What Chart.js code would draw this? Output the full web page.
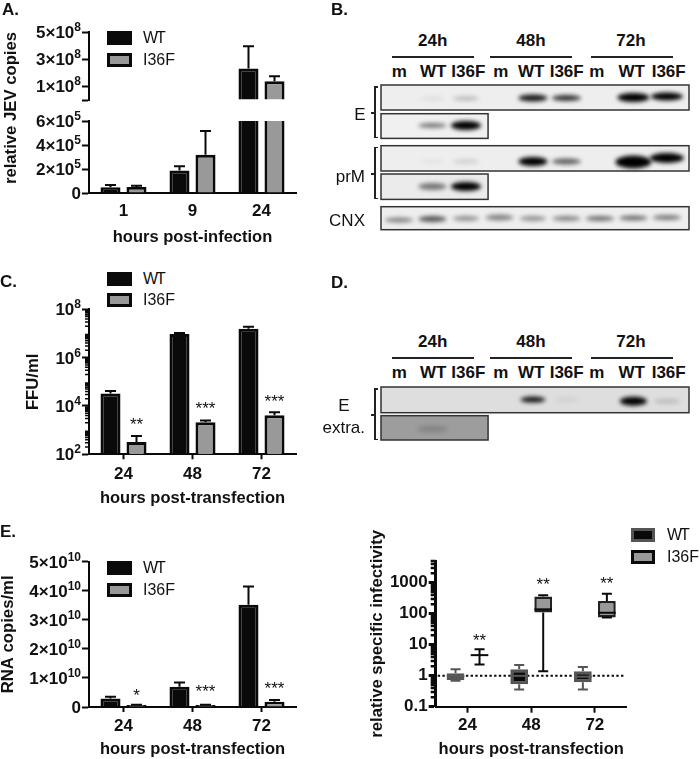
<!DOCTYPE html>
<html>
<head>
<meta charset="utf-8">
<script src="https://cdn.jsdelivr.net/npm/chart.js@4"></script>
<style>
  html, body { margin: 0; padding: 0; background: #fff; }
  #page { position: relative; width: 700px; height: 759px; overflow: hidden; font-family: "Liberation Sans", Arial, sans-serif; color: #111; }
  canvas { position: absolute; }
  .t { position: absolute; white-space: nowrap; line-height: 1; }
  .b { font-weight: bold; }
  .swatch { position: absolute; box-sizing: border-box; }
  .rule { position: absolute; background: #222; }
</style>
</head>
<body>
<div id="page"></div>
<script>
// Panel A: hours post-infection, broken axis
var aHours = ['1', '9', '24'];
var aWtLow = [48000, 187000, 900000];
var aMutLow = [50000, 318000, 900000];
var aWtLowErr = [67000, 223000, null];
var aMutLowErr = [60000, 516000, null];
var aWtHigh = [null, null, 231000000];
var aMutHigh = [null, null, 137000000];
var aWtHighErr = [null, null, 396000000];
var aMutHighErr = [null, null, 174000000];
var aLowTicks = [0, 200000, 400000, 600000];
var aLowLabels = ['0', '2×10^5', '4×10^5', '6×10^5'];
var aHighTicks = [0, 100000000, 300000000, 500000000];
var aHighLabels = ['', '1×10^8', '3×10^8', '5×10^8'];

// Panel C: FFU/ml
var cHours = ['24', '48', '72'];
var cWt = [33000, 9500000, 15800000];
var cMut = [324, 2100, 4100];
var cWtErr = [42000, 10500000, 19000000];
var cMutErr = [570, 2500, 5500];
var cStars = ['**', '***', '***'];
var cStarAt = [2030, 9680, 19400];
var cTicks = [100, 10000, 1000000, 100000000];
var cLabels = ['10^2', '10^4', '10^6', '10^8'];
var cDecades = [100, 1000, 10000, 100000, 1000000, 10000000];

// Panel E: RNA copies/ml
var eHours = ['24', '48', '72'];
var eWt = [2900000000, 7000000000, 35200000000];
var eMut = [700000000, 700000000, 1800000000];
var eWtErr = [3500000000, 8400000000, 41500000000];
var eMutErr = [800000000, 800000000, 2400000000];
var eStars = ['*', '***', '***'];
var eStarAt = [4580000000, 6100000000, 7000000000];
var eTicks = [0, 10000000000, 20000000000, 30000000000, 40000000000, 50000000000];
var eLabels = ['0', '1×10^10', '2×10^10', '3×10^10', '4×10^10', '5×10^10'];

// Panel F: relative specific infectivity, box and whiskers
var fHours = ['24', '48', '72'];
var fWtLow = [0.69, 0.36, 0.36];
var fWtQ1 = [0.72, 0.525, 0.61];
var fWtMed = [0.98, 0.99, 0.93];
var fWtQ3 = [1.19, 1.6, 1.38];
var fWtHigh = [1.6, 2.2, 1.9];
var fMutLow = [2.3, 1.4, 76];
var fMutQ1 = [4.6, 110, 76];
var fMutMed = [4.6, 138, 107];
var fMutQ3 = [4.6, 355, 257];
var fMutHigh = [7.07, 390, 442];
var fStars = ['**', '**', '**'];
var fStarAt = [16.6, 1020, 1130];
var fTicks = [0.1, 1, 10, 100, 1000];
var fLabels = ['0.1', '1', '10', '100', '1000'];
var fDecades = [0.1, 1, 10, 100, 1000];

// Blots: lane 0..8 is m/WT/I36F at 24h, 48h, 72h; y is distance down the membrane
var laneLabels = ['m', 'WT', 'I36F', 'm', 'WT', 'I36F', 'm', 'WT', 'I36F'];
var timeLabels = ['24h', '48h', '72h'];
var bRowTop = [0, 28.7, 60.7, 89, 121.7];
var bRowBottom = [25, 53.4, 86, 114.4, 144.7];
var bRowLast = [8.66, 2.66, 8.66, 2.66, 8.66];
var bRowShade = ['#eeeeee', '#f0f0f0', '#eeeeee', '#ebebeb', '#eeeeee'];
var bLanes = [1, 2, 4, 5, 7, 8, 1, 2, 1, 2, 4, 5, 7, 8, 1, 2, 0, 1, 2, 3, 4, 5, 6, 7, 8];
var bDepth = [13.5, 13.5, 13, 13, 12.5, 11.5, 40.5, 40.5, 76.5, 76.5, 76.5, 76.5, 77, 73, 101.5, 101.5, 135, 134, 133.5, 132.5, 133.5, 133.5, 133.5, 133, 132.5];
var bDark = [0.06, 0.2, 0.9, 0.8, 1, 1, 0.5, 1, 0.04, 0.12, 1, 0.6, 1, 1, 0.5, 1, 0.45, 0.65, 0.4, 0.45, 0.4, 0.45, 0.55, 0.55, 0.5];
var bSpan = [24, 26, 29, 29, 32, 32, 28, 30, 24, 26, 29, 29, 36, 34, 28, 30, 28, 28, 26, 28, 26, 28, 28, 28, 28];
var bThick = [5, 5, 7, 6, 9, 8, 5, 9, 5, 5, 9, 6, 13, 10, 7, 9, 5, 6, 5, 6, 5, 5, 5, 5, 5];

var dRowTop = [0, 29];
var dRowBottom = [26, 53.6];
var dRowLast = [8.66, 2.66];
var dRowShade = ['#dedede', '#9d9d9d'];
var dLanes = [4, 5, 7, 8, 1];
var dDepth = [12.7, 13, 14.3, 14.5, 42.5];
var dDark = [0.9, 0.06, 1, 0.15, 0.15];
var dSpan = [25, 24, 27, 26, 30];
var dThick = [6, 5, 9, 5, 7];

var BLACK = '#0a0a0a';
var GREY = '#999999';
var FONT = '"Liberation Sans", Arial, sans-serif';

var page = document.getElementById('page');

function label(text, x, y, size, bold, anchor) {
  var el = document.createElement('div');
  el.className = 't' + (bold ? ' b' : '');
  el.textContent = text;
  el.style.fontSize = size + 'px';
  el.style.left = x + 'px';
  el.style.top = y + 'px';
  el.style.transform = 'translate(' + (anchor === 'right' ? '-100%' : anchor === 'left' ? '0' : '-50%') + ',-50%)';
  page.appendChild(el);
  return el;
}

function rule(x, y, w, h) {
  var el = document.createElement('div');
  el.className = 'rule';
  el.style.cssText = 'left:' + x + 'px;top:' + y + 'px;width:' + w + 'px;height:' + h + 'px';
  page.appendChild(el);
}

function legend(x, y1, y2, w, h, textX, wtBorder) {
  [['WT', y1, BLACK, wtBorder], ['I36F', y2, GREY, BLACK]].forEach(function(r) {
    var s = document.createElement('div');
    s.className = 'swatch';
    s.style.cssText = 'left:' + x + 'px;top:' + r[1] + 'px;width:' + w + 'px;height:' + h + 'px;background:' + r[2] + ';border:3px solid ' + r[3];
    page.appendChild(s);
    var t = label(r[0], textX, r[1] + h / 2, 16, false, 'left');
    if (r[0] === 'WT') t.style.letterSpacing = '-2px';
  });
}

function addCanvas(left, top, w, h) {
  var c = document.createElement('canvas');
  c.width = w;
  c.height = h;
  c.style.left = left + 'px';
  c.style.top = top + 'px';
  page.appendChild(c);
  return c;
}

// whisker lines, significance stars, minor ticks and the reference line are not in the library
var extrasPlugin = {
  id: 'extras',
  beforeDatasetsDraw: function(chart) {
    var opts = chart.options.plugins.extras;
    if (opts.refLine == null) return;
    var ctx = chart.ctx;
    var py = chart.scales.y.getPixelForValue(opts.refLine);
    ctx.save();
    ctx.strokeStyle = BLACK;
    ctx.lineWidth = 2;
    ctx.setLineDash([2.4, 2.3]);
    ctx.beginPath();
    ctx.moveTo(chart.chartArea.left + 2, py);
    ctx.lineTo(chart.chartArea.right - 1, py);
    ctx.stroke();
    ctx.restore();
  },
  afterDatasetsDraw: function(chart) {
    var ctx = chart.ctx;
    var y = chart.scales.y;
    ctx.save();
    chart.data.datasets.forEach(function(ds, d) {
      var meta = chart.getDatasetMeta(d);
      meta.data.forEach(function(bar, i) {
        if (ds.errTop && ds.errTop[i] != null) {
          var top = y.getPixelForValue(ds.errTop[i]);
          ctx.strokeStyle = BLACK;
          ctx.lineWidth = 2;
          ctx.beginPath();
          ctx.moveTo(bar.x, bar.y);
          ctx.lineTo(bar.x, top);
          ctx.moveTo(bar.x - 5.5, top);
          ctx.lineTo(bar.x + 5.5, top);
          ctx.stroke();
        }
        if (ds.whiskLow) {
          var lo = y.getPixelForValue(ds.whiskLow[i]);
          var hi = y.getPixelForValue(ds.whiskHigh[i]);
          var q1 = y.getPixelForValue(ds.data[i][0]);
          var q3 = y.getPixelForValue(ds.data[i][1]);
          var med = y.getPixelForValue(ds.median[i]);
          ctx.strokeStyle = ds.whiskColor;
          ctx.lineWidth = 2;
          ctx.beginPath();
          ctx.moveTo(bar.x, q3);
          ctx.lineTo(bar.x, hi);
          ctx.moveTo(bar.x - 5, hi);
          ctx.lineTo(bar.x + 5, hi);
          ctx.moveTo(bar.x, q1);
          ctx.lineTo(bar.x, lo);
          ctx.moveTo(bar.x - 5, lo);
          ctx.lineTo(bar.x + 5, lo);
          ctx.stroke();
          ctx.strokeStyle = ds.medianColor;
          ctx.lineWidth = 2;
          ctx.beginPath();
          ctx.moveTo(bar.x - 8.8, med);
          ctx.lineTo(bar.x + 8.8, med);
          ctx.stroke();
        }
        if (ds.stars && ds.stars[i]) {
          ctx.fillStyle = '#111';
          ctx.font = '17px ' + FONT;
          ctx.textAlign = 'center';
          ctx.textBaseline = 'middle';
          ctx.fillText(ds.stars[i], bar.x, y.getPixelForValue(ds.starAt[i]) + 3);
        }
      });
    });
    var opts = chart.options.plugins.extras;
    if (opts.minorDecades) {
      ctx.strokeStyle = BLACK;
      ctx.lineWidth = opts.minorWidth;
      ctx.beginPath();
      opts.minorDecades.forEach(function(dec) {
        [2, 3, 4, 5, 6, 7, 8, 9].forEach(function(m) {
          if (dec * m > y.max) return;
          var p = y.getPixelForValue(dec * m);
          ctx.moveTo(chart.chartArea.left, p);
          ctx.lineTo(chart.chartArea.left - opts.minorLen, p);
        });
      });
      ctx.stroke();
    }
    // tick labels with a real raised exponent, '5×10^8' style
    if (opts.supLabels) {
      var right = chart.chartArea.left - 8;
      ctx.fillStyle = '#111';
      ctx.textAlign = 'left';
      ctx.textBaseline = 'alphabetic';
      y.ticks.forEach(function(tick) {
        var parts = opts.supLabels[y.ticks.indexOf(tick)].split('^');
        var base = y.getPixelForValue(tick.value) + 6;
        ctx.font = 'bold 17px ' + FONT;
        var w = ctx.measureText(parts[0]).width;
        ctx.font = 'bold 12px ' + FONT;
        var w2 = parts[1] ? ctx.measureText(parts[1]).width : 0;
        ctx.font = 'bold 17px ' + FONT;
        ctx.fillText(parts[0], right - w - w2, base);
        if (parts[1]) {
          ctx.font = 'bold 12px ' + FONT;
          ctx.fillText(parts[1], right - w2, base - 7);
        }
      });
    }
    ctx.restore();
  }
};

function barSets(wt, mut, wtErr, mutErr, stars, starAt) {
  return [
    { label: 'WT', data: wt, backgroundColor: BLACK, borderColor: BLACK, borderWidth: 3, errTop: wtErr },
    { label: 'I36F', data: mut, backgroundColor: GREY, borderColor: BLACK, borderWidth: 3, errTop: mutErr, stars: stars, starAt: starAt }
  ];
}

// canvas box plus the plot rectangle measured in page pixels
function axisChart(cfg) {
  var box = cfg.box, plot = cfg.plot;
  var el = addCanvas(box.left, box.top, box.w, box.h);
  var yTicks = cfg.yTicks, yLabels = cfg.yLabels;
  var showX = cfg.xTitle !== undefined;
  return new Chart(el.getContext('2d'), {
    type: 'bar',
    data: { labels: cfg.labels, datasets: cfg.datasets },
    plugins: [extrasPlugin],
    options: {
      responsive: false,
      animation: false,
      events: [],
      layout: { padding: {
        left: 0,
        top: plot.top - box.top,
        right: box.left + box.w - plot.right,
        bottom: showX ? 0 : box.top + box.h - plot.bottom
      } },
      datasets: { bar: { categoryPercentage: cfg.catPct || 0.754, barPercentage: cfg.barPct || 0.77, borderSkipped: cfg.skipped === undefined ? 'bottom' : cfg.skipped } },
      plugins: {
        legend: { display: false },
        tooltip: { enabled: false },
        extras: { refLine: cfg.refLine, minorDecades: cfg.minorDecades, minorLen: cfg.minorLen || 4, minorWidth: cfg.minorWidth || 1.5, supLabels: cfg.sup ? yLabels : null }
      },
      scales: {
        x: {
          display: showX,
          afterFit: function(s) { s.height = box.top + box.h - plot.bottom; },
          grid: { display: true, drawOnChartArea: false, offset: false, drawTicks: cfg.xTickLen > 0, tickLength: cfg.xTickLen, tickWidth: 2, tickColor: BLACK },
          border: { display: true, width: 2, color: BLACK },
          ticks: { color: '#111', padding: cfg.xTickPad, maxRotation: 0, font: { family: FONT, size: 17, weight: 'bold' } },
          title: { display: !!cfg.xTitle, text: cfg.xTitle, color: '#111', padding: { top: 0, bottom: cfg.xTitlePad }, font: { family: FONT, size: 16.5, weight: 'bold' } }
        },
        y: {
          type: cfg.yType || 'linear',
          min: cfg.yMin,
          max: cfg.yMax,
          afterFit: function(s) { s.width = plot.left - box.left; },
          afterBuildTicks: function(s) { s.ticks = yTicks.map(function(v) { return { value: v }; }); },
          grid: { display: true, drawOnChartArea: false, tickLength: cfg.yTickLen || 7, tickWidth: cfg.yLine || 2, tickColor: BLACK },
          border: { display: true, width: cfg.yLine || 2, color: BLACK },
          ticks: {
            display: !cfg.sup,
            color: '#111',
            padding: 1,
            autoSkip: false,
            font: { family: FONT, size: 17, weight: 'bold' },
            callback: function(v, i) { return yLabels[i]; }
          },
          title: { display: !!cfg.yTitle, text: cfg.yTitle, color: '#111', padding: { top: cfg.yTitlePad, bottom: 0 }, font: { family: FONT, size: 16.7, weight: 'bold' } }
        }
      }
    }
  });
}

// Panel A, top and bottom of the broken axis
axisChart({
  box: { left: 0, top: 12, w: 330, h: 96 }, plot: { left: 89, top: 32, right: 296, bottom: 104 },
  labels: aHours, datasets: barSets(aWtHigh, aMutHigh, aWtHighErr, aMutHighErr),
  yMin: 0, yMax: 500000000, yTicks: aHighTicks, yLabels: aHighLabels, sup: true
});
axisChart({
  box: { left: 0, top: 108, w: 330, h: 142 }, plot: { left: 89, top: 121, right: 296, bottom: 193 },
  labels: aHours, datasets: barSets(aWtLow, aMutLow, aWtLowErr, aMutLowErr),
  yMin: 0, yMax: 600000, yTicks: aLowTicks, yLabels: aLowLabels, sup: true,
  xTitle: 'hours post-infection', xTitlePad: 3, xTickLen: 0, xTickPad: 8
});
label('relative JEV copies', 11, 108, 16.7, true).style.transform = 'translate(-50%,-50%) rotate(-90deg)';
legend(107, 31, 53, 25, 14, 143, BLACK);

// Panel C
axisChart({
  box: { left: 0, top: 290, w: 330, h: 220 }, plot: { left: 89, top: 309.3, right: 296, bottom: 454.3 },
  labels: cHours, datasets: barSets(cWt, cMut, cWtErr, cMutErr, cStars, cStarAt),
  yType: 'logarithmic', yMin: 100, yMax: 100000000, yTicks: cTicks, yLabels: cLabels, sup: true,
  minorDecades: cDecades,
  yTitle: 'FFU/ml', yTitlePad: 23,
  xTitle: 'hours post-transfection', xTitlePad: 2, xTickLen: 5, xTickPad: 5
});
legend(107, 272, 293, 25, 14, 143, BLACK);

// Panel E
axisChart({
  box: { left: 0, top: 545, w: 330, h: 214 }, plot: { left: 89, top: 561.7, right: 296, bottom: 707 },
  labels: eHours, datasets: barSets(eWt, eMut, eWtErr, eMutErr, eStars, eStarAt),
  yMin: 0, yMax: 50000000000, yTicks: eTicks, yLabels: eLabels, sup: true,
  yTitle: 'RNA copies/ml', yTitlePad: -2,
  xTitle: 'hours post-transfection', xTitlePad: 0, xTickLen: 5, xTickPad: 4
});
legend(107, 561, 583, 25, 14, 143, BLACK);

// Panel F, floating bars give the boxes
axisChart({
  box: { left: 350, top: 520, w: 350, h: 239 }, plot: { left: 435.7, top: 561, right: 626.7, bottom: 706.7 },
  labels: fHours,
  datasets: [
    {
      label: 'WT',
      data: fWtQ1.map(function(q, i) { return [q, fWtQ3[i]]; }),
      backgroundColor: BLACK, borderColor: '#555555', borderWidth: 3,
      whiskLow: fWtLow, whiskHigh: fWtHigh, median: fWtMed, whiskColor: '#555555', medianColor: '#5a5a5a'
    },
    {
      label: 'I36F',
      data: fMutQ1.map(function(q, i) { return [q, fMutQ3[i]]; }),
      backgroundColor: GREY, borderColor: '#222222', borderWidth: 2.5,
      whiskLow: fMutLow, whiskHigh: fMutHigh, median: fMutMed, whiskColor: BLACK, medianColor: BLACK,
      stars: fStars, starAt: fStarAt
    }
  ],
  catPct: 0.754, barPct: 0.74, skipped: false,
  yType: 'logarithmic', yMin: 0.1, yMax: 5000, yTicks: fTicks, yLabels: fLabels,
  yLine: 3, minorDecades: fDecades, minorLen: 5, minorWidth: 2.5, refLine: 1,
  yTitle: 'relative specific infectivity', yTitlePad: 17,
  xTitle: 'hours post-transfection', xTitlePad: 0, xTickLen: 6, xTickPad: 2
});
legend(631, 528, 550, 24, 14, 667, '#555555');

// membrane frames and bands
var blotPlugin = {
  id: 'blot',
  beforeDatasetsDraw: function(chart) {
    var ctx = chart.ctx, o = chart.options.plugins.blot;
    var x = chart.scales.x, y = chart.scales.y;
    ctx.save();
    o.rowTop.forEach(function(top, r) {
      ctx.fillStyle = o.rowShade[r];
      ctx.fillRect(chart.chartArea.left, y.getPixelForValue(top), x.getPixelForValue(o.rowLast[r]) - chart.chartArea.left, y.getPixelForValue(o.rowBottom[r]) - y.getPixelForValue(top));
    });
    var pts = chart.getDatasetMeta(0).data;
    ctx.filter = 'blur(2px)';
    pts.forEach(function(pt, i) {
      ctx.fillStyle = 'rgba(0,0,0,' + o.dark[i] + ')';
      ctx.beginPath();
      ctx.ellipse(pt.x, pt.y, o.span[i] / 2, o.thick[i] / 2, 0, 0, Math.PI * 2);
      ctx.fill();
    });
    ctx.filter = 'none';
    ctx.strokeStyle = '#333333';
    ctx.lineWidth = 1.5;
    o.rowTop.forEach(function(top, r) {
      ctx.strokeRect(chart.chartArea.left, y.getPixelForValue(top), x.getPixelForValue(o.rowLast[r]) - chart.chartArea.left, y.getPixelForValue(o.rowBottom[r]) - y.getPixelForValue(top));
    });
    ctx.restore();
  }
};

function blotChart(left, top, w, h, yMax, rows, lanes, depth, dark, span, thick) {
  var el = addCanvas(left - 4, top - 4, w + 8, h + 8);
  return new Chart(el.getContext('2d'), {
    type: 'scatter',
    data: { datasets: [{ data: lanes.map(function(l, i) { return { x: l, y: depth[i] }; }), pointRadius: 0 }] },
    plugins: [blotPlugin],
    options: {
      responsive: false,
      animation: false,
      events: [],
      layout: { padding: 4 },
      plugins: {
        legend: { display: false },
        tooltip: { enabled: false },
        blot: { rowTop: rows[0], rowBottom: rows[1], rowLast: rows[2], rowShade: rows[3], dark: dark, span: span, thick: thick }
      },
      scales: {
        x: { type: 'linear', display: false, min: -0.537, max: 8.66 },
        y: { type: 'linear', display: false, reverse: true, min: 0, max: yMax }
      }
    }
  });
}

blotChart(381, 85, 308, 145, 145, [bRowTop, bRowBottom, bRowLast, bRowShade], bLanes, bDepth, bDark, bSpan, bThick);
blotChart(381, 387, 308, 53.6, 53.6, [dRowTop, dRowBottom, dRowLast, dRowShade], dLanes, dDepth, dDark, dSpan, dThick);

// text and rules above the two blots
function blotHeader(timeY, ruleY, laneY) {
  var timeX = [432.7, 531, 631], ruleX = [392.3, 490.3, 590.7];
  var laneX = [399.3, 433.3, 468.3, 500.7, 531.3, 566.7, 596.7, 631.7, 668.7];
  timeLabels.forEach(function(t, i) {
    label(t, timeX[i], timeY, 17, true);
    rule(ruleX[i], ruleY, 82, 1.5);
  });
  laneLabels.forEach(function(t, i) { label(t, laneX[i], laneY, 17, true); });
}
blotHeader(40, 56, 71);
blotHeader(341, 357, 372);

function bracket(top, bottom, tickY) {
  rule(374, top, 1.5, bottom - top);
  rule(374, top, 4, 1.5);
  rule(374, bottom - 1.5, 4, 1.5);
  rule(370.5, tickY, 4, 1.5);
}
bracket(86, 138, 112);
bracket(146.5, 199, 173);
bracket(388, 440, 414);

label('E', 360, 114, 17);
label('prM', 365, 176, 17, false, 'right');
label('CNX', 365, 220, 17, false, 'right');
label('E', 344, 405, 17);
label('extra.', 365, 427, 17, false, 'right');

label('A.', 2, 9, 17, true, 'left');
label('B.', 331, 9, 17, true, 'left');
label('C.', 0, 281, 17, true, 'left');
label('D.', 331, 282, 17, true, 'left');
label('E.', 0, 531, 17, true, 'left');
</script>
</body>
</html>
